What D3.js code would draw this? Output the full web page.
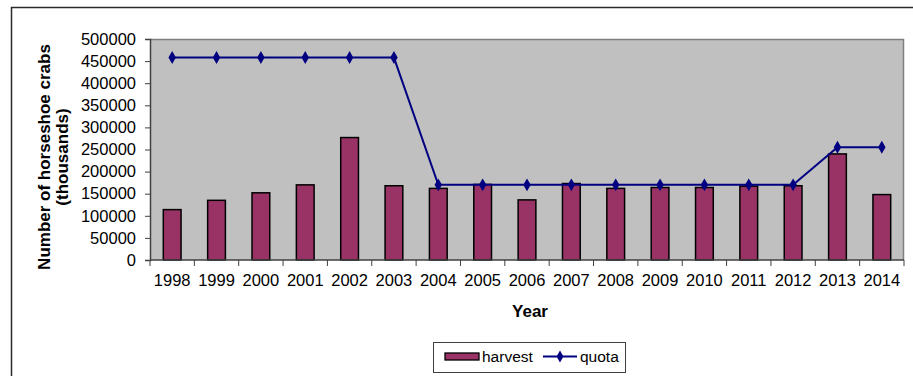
<!DOCTYPE html>
<html>
<head>
<meta charset="utf-8">
<script src="https://cdn.jsdelivr.net/npm/d3@7/dist/d3.min.js"></script>
<style>
  html, body { margin: 0; padding: 0; background: #fff; }
  svg { display: block; font-family: "Liberation Sans", Arial, sans-serif; }
</style>
</head>
<body>
<svg id="chart" width="913" height="376"></svg>
<script>
// Horseshoe crab harvest vs. quota (thousands)
const years = ["1998","1999","2000","2001","2002","2003","2004","2005","2006",
               "2007","2008","2009","2010","2011","2012","2013","2014"];
const harvest = [114000, 135000, 152000, 170000, 277000, 168000, 162000, 171000, 136000,
                 173000, 162000, 164000, 164000, 167000, 168000, 240000, 148000];
const quota = [458000, 458000, 458000, 458000, 458000, 458000, 170000, 170000, 170000,
               170000, 170000, 170000, 170000, 170000, 170000, 255000, 255000];
const yTicks = [0, 50000, 100000, 150000, 200000, 250000, 300000, 350000, 400000, 450000, 500000];

const svg = d3.select("#chart");
const plot = { left: 150, right: 904, top: 39, bottom: 260 };
const fontSize = 16.5;

// outer chart frame (top and left edges visible)
svg.append("path")
  .attr("d", "M11.5,376 V7.5 H913")
  .attr("fill", "none").attr("stroke", "#2b2b2b").attr("stroke-width", 1.5);

const x = d3.scaleBand().domain(years).range([plot.left, plot.right])
  .paddingInner(0.6).paddingOuter(0.3);
const y = d3.scaleLinear().domain([0, 500000]).range([plot.bottom, plot.top]);

// plot area background
svg.append("rect")
  .attr("x", plot.left).attr("y", plot.top)
  .attr("width", plot.right - plot.left).attr("height", plot.bottom - plot.top)
  .attr("fill", "#c0c0c0");
svg.append("path")
  .attr("d", `M${plot.left},${plot.top + 0.5} H${plot.right - 0.5} V${plot.bottom}`)
  .attr("fill", "none").attr("stroke", "#808080").attr("stroke-width", 1.5);

// harvest bars
svg.append("g").selectAll("rect").data(years).join("rect")
  .attr("x", d => x(d))
  .attr("y", (d, i) => y(harvest[i]))
  .attr("width", x.bandwidth())
  .attr("height", (d, i) => y(0) - y(harvest[i]))
  .attr("fill", "#993366")
  .attr("stroke", "#000").attr("stroke-width", 1.5);

// quota line with diamond markers
const cx = d => x(d) + x.bandwidth() / 2;
svg.append("path")
  .datum(years)
  .attr("d", d3.line().x(d => cx(d)).y((d, i) => y(quota[i])))
  .attr("fill", "none").attr("stroke", "#000080").attr("stroke-width", 2);
svg.append("g").selectAll("path").data(years).join("path")
  .attr("transform", (d, i) => `translate(${cx(d)},${y(quota[i])})`)
  .attr("d", d3.symbol(d3.symbolDiamond, 48))
  .attr("fill", "#000080");

// y axis
const yAxis = svg.append("g")
  .attr("transform", `translate(${plot.left},0)`)
  .call(d3.axisLeft(y).tickValues(yTicks).tickFormat(d3.format("d")).tickSize(5).tickPadding(9));
yAxis.select(".domain").attr("stroke", "#404040").attr("stroke-width", 1.5);
yAxis.selectAll(".tick line").attr("stroke", "#404040");
yAxis.selectAll("text").attr("font-size", fontSize).attr("fill", "#000")
  .attr("font-family", "Liberation Sans, Arial, sans-serif");

// x axis: baseline, boundary ticks, year labels
const step = x.step();
const start = x(years[0]) - x.paddingOuter() * step;
svg.append("line")
  .attr("x1", plot.left).attr("x2", plot.right)
  .attr("y1", y(0)).attr("y2", y(0))
  .attr("stroke", "#404040").attr("stroke-width", 1.5);
svg.append("g").selectAll("line").data(d3.range(years.length + 1)).join("line")
  .attr("x1", i => start + i * step).attr("x2", i => start + i * step)
  .attr("y1", y(0)).attr("y2", y(0) + 6)
  .attr("stroke", "#404040");
svg.append("g").selectAll("text").data(years).join("text")
  .attr("x", d => cx(d)).attr("y", y(0) + 26)
  .attr("text-anchor", "middle").attr("font-size", fontSize).text(d => d);

// axis titles
svg.append("text")
  .attr("x", (plot.left + plot.right) / 2 + 3).attr("y", 317)
  .attr("text-anchor", "middle").attr("font-size", 17).attr("font-weight", "bold")
  .text("Year");
const yTitle = svg.append("text")
  .attr("transform", "translate(50,157) rotate(-90)")
  .attr("text-anchor", "middle").attr("font-size", 17).attr("font-weight", "bold");
yTitle.append("tspan").attr("x", 0).attr("y", 0).text("Number of horseshoe crabs");
yTitle.append("tspan").attr("x", 0).attr("y", 18).text("(thousands)");

// legend
const lg = svg.append("g");
lg.append("rect").attr("x", 433.5).attr("y", 342.5).attr("width", 192).attr("height", 30)
  .attr("fill", "#fff").attr("stroke", "#404040").attr("stroke-width", 1);
lg.append("rect").attr("x", 445).attr("y", 353).attr("width", 34).attr("height", 7)
  .attr("fill", "#993366").attr("stroke", "#000").attr("stroke-width", 1.3);
lg.append("text").attr("x", 482).attr("y", 362).attr("font-size", 15.5).text("harvest");
lg.append("line").attr("x1", 543).attr("x2", 577).attr("y1", 356.5).attr("y2", 356.5)
  .attr("stroke", "#000080").attr("stroke-width", 2);
lg.append("path").attr("transform", "translate(560,356.5)")
  .attr("d", d3.symbol(d3.symbolDiamond, 40)).attr("fill", "#000080");
lg.append("text").attr("x", 580).attr("y", 362).attr("font-size", 15.5).text("quota");
</script>
</body>
</html>
